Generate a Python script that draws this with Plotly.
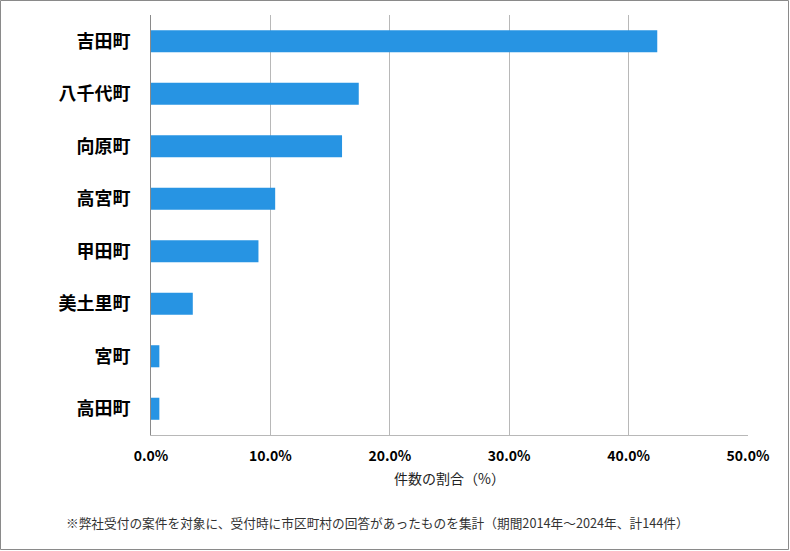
import plotly.graph_objects as go

towns = ["吉田町", "八千代町", "向原町", "高宮町", "甲田町", "美土里町", "宮町", "高田町"]
shares = [42.4, 17.4, 16.0, 10.4, 9.0, 3.5, 0.7, 0.7]
x_ticks = [0, 10, 20, 30, 40, 50]
x_tick_labels = ["0.0%", "10.0%", "20.0%", "30.0%", "40.0%", "50.0%"]

W, H = 790, 551
L, R, T, B = 151, 42, 15, 116
pw, ph = W - L - R, H - T - B

fig = go.Figure(go.Bar(
    x=shares,
    y=towns,
    orientation="h",
    marker=dict(color="#2794E3", line=dict(width=0)),
    hoverinfo="x+y",
))

fig.update_layout(
    width=W, height=H,
    margin=dict(l=L, r=R, t=T, b=B, autoexpand=False),
    paper_bgcolor="white",
    plot_bgcolor="white",
    bargap=0.58,
    showlegend=False,
    font=dict(family="'Noto Sans CJK JP', sans-serif", color="#000"),
)

fig.update_xaxes(
    range=[0, 50],
    tickvals=x_ticks,
    ticktext=x_tick_labels,
    tickfont=dict(size=14, color="#000", weight="bold"),
    showgrid=True, gridcolor="#b8b8b8", gridwidth=1,
    showline=True, linecolor="#b8b8b8", linewidth=1,
    zeroline=False,
    ticks="", ticklabelstandoff=8,
    title=dict(text="件数の割合（%）", font=dict(size=14, color="#222"), standoff=10),
    fixedrange=True,
)
fig.update_yaxes(
    categoryorder="array",
    categoryarray=towns[::-1],
    tickfont=dict(size=18, color="#000", weight="bold"),
    showline=True, linecolor="#8a8a8a", linewidth=1,
    showgrid=False, ticks="", ticklabelstandoff=16,
    fixedrange=True,
)

fig.add_annotation(
    text="※弊社受付の案件を対象に、受付時に市区町村の回答があったものを集計（期間2014年～2024年、計144件）",
    xref="paper", yref="paper",
    x=(64 - L) / pw, y=-(522 - T - ph) / ph,
    xanchor="left", yanchor="middle",
    showarrow=False,
    font=dict(size=12.7, color="#333"),
)

# outer frame of the chart
fig.add_shape(
    type="rect", xref="paper", yref="paper",
    x0=-(L - 0.5) / pw, x1=1 + (R - 1.5) / pw,
    y0=-(B - 1.5) / ph, y1=1 + (T - 0.5) / ph,
    line=dict(color="#8a8a8a", width=1),
    layer="above",
)

# drop the default 8px page margin so the chart sits at the window origin
fig.write_html(
    "out.html",
    config={"displayModeBar": False},
    post_script="document.body.style.margin='0';",
)
